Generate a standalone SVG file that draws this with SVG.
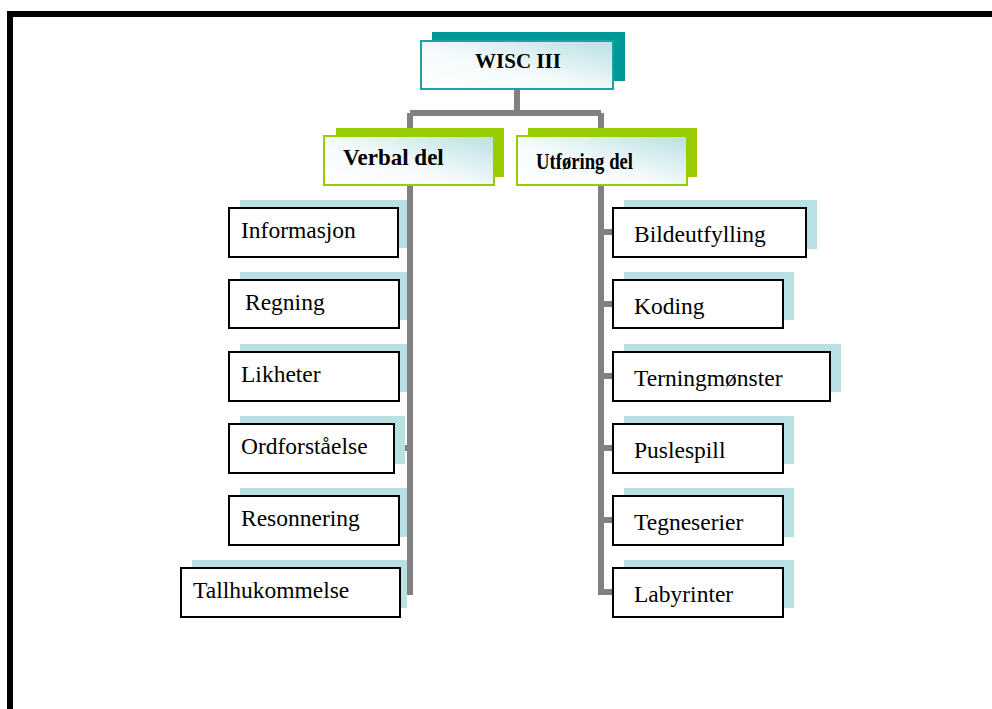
<svg xmlns="http://www.w3.org/2000/svg" width="992" height="709" viewBox="0 0 992 709">
<defs>
<linearGradient id="hg" x1="0" y1="1" x2="1" y2="0">
<stop offset="0" stop-color="#ffffff"/>
<stop offset="0.45" stop-color="#f4fafb"/>
<stop offset="1" stop-color="#b9dfe3"/>
</linearGradient>
<style>
.conn{stroke:#808080;stroke-width:6;fill:none;stroke-linejoin:miter;stroke-linecap:butt}
.sh{fill:#b9e0e3}
.bx{fill:#ffffff;stroke:#000000;stroke-width:2}
.t{font-family:"Liberation Serif","Times New Roman",serif;font-size:23.5px;fill:#000}
.h{font-family:"Liberation Serif","Times New Roman",serif;font-weight:bold;fill:#000}
.gsh{fill:#99cc00}
.gbx{fill:url(#hg);stroke:#99cc00;stroke-width:2}
</style>
</defs>
<rect width="992" height="709" fill="#ffffff"/>
<path d="M10,709 V14 H992" fill="none" stroke="#000" stroke-width="6"/>
<g id="connectors">
<path class="conn" d="M517,89 V113 M410,113 H601 M410,113 V595 M601,113 V592 H613"/>
<path class="conn" d="M399,232 H410 M399,304 H410 M399,376 H410 M394,448 H410 M399,520 H410 M400,592 H410"/>
<path class="conn" d="M601,232 H613 M601,304 H613 M601,376 H613 M601,448 H613 M601,520 H613"/>
</g>
<g id="wisc">
<rect x="432" y="32" width="193" height="49" fill="#009999"/>
<rect x="421" y="41" width="192" height="48" fill="url(#hg)" stroke="#1aa3a3" stroke-width="2"/>
<text class="h" x="518" y="68" font-size="21" text-anchor="middle">WISC III</text>
</g>
<g id="verbal">
<rect class="gsh" x="336" y="128" width="168" height="49"/>
<rect class="gbx" x="324" y="136" width="170" height="49"/>
<text class="h" x="343" y="165" font-size="23">Verbal del</text>
</g>
<g id="utforing">
<rect class="gsh" x="528" y="128" width="169" height="49"/>
<rect class="gbx" x="517" y="136" width="170" height="49"/>
<text class="h" x="536" y="169" font-size="23" textLength="97" lengthAdjust="spacingAndGlyphs">Utføring del</text>
</g>
<g id="informasjon">
<rect class="sh" x="240" y="200" width="167" height="48"/>
<rect class="bx" x="229" y="208" width="169" height="49"/>
<text class="t" x="241" y="238">Informasjon</text>
</g>
<g id="regning">
<rect class="sh" x="240" y="272" width="167" height="48"/>
<rect class="bx" x="229" y="280" width="170" height="48"/>
<text class="t" x="245" y="310">Regning</text>
</g>
<g id="likheter">
<rect class="sh" x="240" y="344" width="167" height="48"/>
<rect class="bx" x="229" y="352" width="170" height="49"/>
<text class="t" x="241" y="382">Likheter</text>
</g>
<g id="ordforstaaelse">
<rect class="sh" x="240" y="416" width="165" height="48"/>
<rect class="bx" x="229" y="424" width="165" height="49"/>
<text class="t" x="241" y="454">Ordforståelse</text>
</g>
<g id="resonnering">
<rect class="sh" x="240" y="488" width="167" height="49"/>
<rect class="bx" x="229" y="496" width="170" height="49"/>
<text class="t" x="241" y="526">Resonnering</text>
</g>
<g id="tallhukommelse">
<rect class="sh" x="192" y="560" width="215" height="48"/>
<rect class="bx" x="181" y="568" width="219" height="49"/>
<text class="t" x="193" y="598">Tallhukommelse</text>
</g>
<g id="bildeutfylling">
<rect class="sh" x="624" y="200" width="193" height="49"/>
<rect class="bx" x="613" y="208" width="193" height="49"/>
<text class="t" x="634" y="242">Bildeutfylling</text>
</g>
<g id="koding">
<rect class="sh" x="624" y="272" width="170" height="48"/>
<rect class="bx" x="613" y="280" width="170" height="48"/>
<text class="t" x="634" y="314">Koding</text>
</g>
<g id="terningmonster">
<rect class="sh" x="624" y="344" width="217" height="48"/>
<rect class="bx" x="613" y="352" width="217" height="49"/>
<text class="t" x="634" y="386">Terningmønster</text>
</g>
<g id="puslespill">
<rect class="sh" x="624" y="416" width="170" height="48"/>
<rect class="bx" x="613" y="424" width="170" height="49"/>
<text class="t" x="634" y="458">Puslespill</text>
</g>
<g id="tegneserier">
<rect class="sh" x="624" y="488" width="170" height="49"/>
<rect class="bx" x="613" y="496" width="170" height="49"/>
<text class="t" x="634" y="530">Tegneserier</text>
</g>
<g id="labyrinter">
<rect class="sh" x="624" y="560" width="170" height="48"/>
<rect class="bx" x="613" y="568" width="170" height="49"/>
<text class="t" x="634" y="602">Labyrinter</text>
</g>
</svg>
